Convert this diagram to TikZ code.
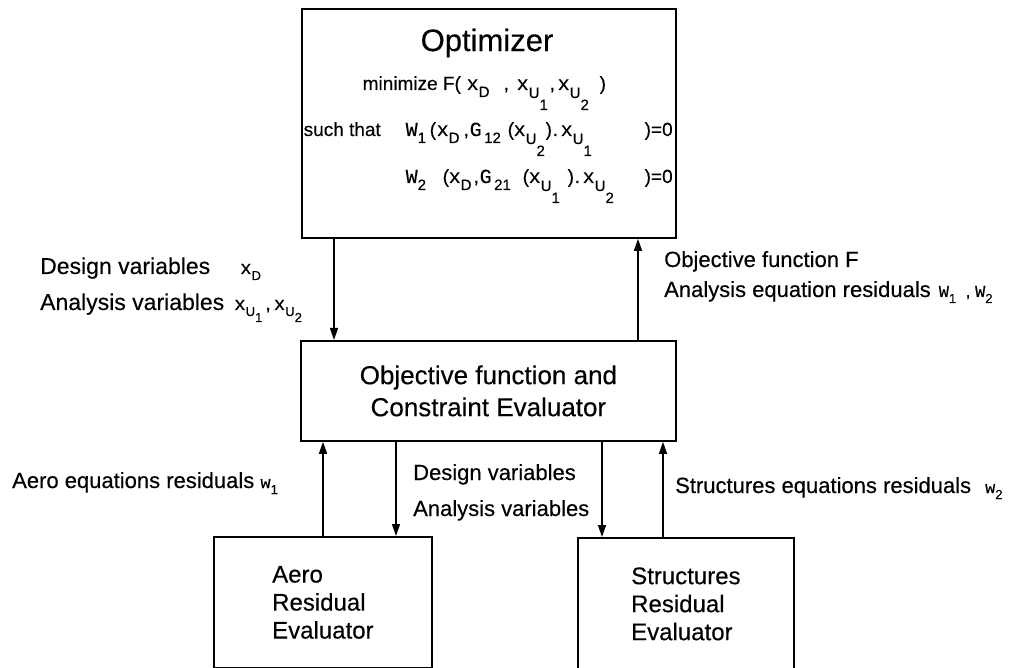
\documentclass[tikz,border=0pt]{standalone}
\usepackage{fontspec}
\setmainfont{Liberation Sans}[FakeBold=0.3]
\newfontfamily\monof{Liberation Mono}[FakeBold=0.3]
\usetikzlibrary{arrows.meta}
\newcommand\fs[1]{\fontsize{#1}{#1}\selectfont}
\newcommand\sv[2]{{\monof #1}\raisebox{-6pt}{\fs{13}#2}}
\newcommand\svv[3]{{\monof #1}\raisebox{-6pt}{\fs{13}#2\raisebox{-6pt}{#3}}}
% formula pieces (optimizer box)
\newcommand\fv[2]{{\fs{20}\monof #1}\raisebox{-7pt}{\fs{15}#2}}
\newcommand\fvv[3]{{\fs{20}\monof #1}\raisebox{-8pt}{\fs{15}#2\raisebox{-12pt}{#3}}}
\newcommand\at[2]{\makebox[0pt][l]{\hspace{#1pt}#2}}
\begin{document}
\begin{tikzpicture}[x=1pt,y=-1pt,
  box/.style={draw,line width=1.8pt,inner sep=0pt,anchor=north west},
  conn/.style={line width=1.4pt,-{Triangle[length=12pt,width=8pt]}},
  lbl/.style={anchor=base west,inner sep=0pt,font=\fs{22}},
  frm/.style={anchor=base west,inner sep=0pt,font=\fs{19}}]
\useasboundingbox (0,0) rectangle (1012,668);
% boxes
\node[box,minimum width=374pt,minimum height=229pt] (opt) at (301,8) {};
\node[box,minimum width=375pt,minimum height=100pt,align=center,font=\fs{26}\setlength{\baselineskip}{32pt}] (mid) at (300,340)
  {Objective function and\\Constraint Evaluator};
\node[box,minimum width=218pt,minimum height=131pt,align=left,font=\fs{24}\setlength{\baselineskip}{28pt}] (aero) at (213,536)
  {Aero\\Residual\\Evaluator};
\node[box,minimum width=216pt,minimum height=132pt,align=left,font=\fs{24}\setlength{\baselineskip}{28pt}] (str) at (577,537)
  {Structures\\Residual\\Evaluator};
% optimizer texts
\node[inner sep=0pt,font=\fs{31}] (title) at (487,43) {Optimizer};
\node[frm] (r1) at (362,90) {\at{0}{minimize F(}\at{104}{\fv{x}{D}}\at{141}{,}\at{154}{\fvv{x}{U}{1}}\at{187}{,}\at{195}{\fvv{x}{U}{2}}\at{237}{)}\hspace{244pt}};
\node[frm] (r2) at (303,136) {\at{0}{such that}\at{102}{\fv{W}{1}}\at{126}{(}\at{133}{\fv{x}{D}}\at{160}{,}\at{166}{\fv{G}{\,12}}\at{204}{(}\at{210}{\fvv{x}{U}{2}}\at{242}{)}\at{249}{.}\at{257}{\fvv{x}{U}{1}}\at{341}{)=0}\hspace{370pt}};
\node[frm] (r3) at (405,183) {\at{0}{\fv{W}{2}}\at{37}{(}\at{43}{\fv{x}{D}}\at{68}{,}\at{74}{\fv{G}{\,21}}\at{117}{(}\at{123}{\fvv{x}{U}{1}}\at{162}{)}\at{169}{.}\at{177}{\fvv{x}{U}{2}}\at{239}{)=0}\hspace{267pt}};
% labels
\node[lbl,font=\fs{23}] (dv) at (40,274) {Design variables\hspace{30pt}{\fs{19}\sv{x}{D}}};
\node[lbl,font=\fs{23}] (av) at (40,310) {Analysis variables\hspace{10pt}{\fs{19}\svv{x}{U}{1}\,,\,\svv{x}{U}{2}}};
\node[lbl] (of) at (664,267) {Objective function F};
\node[lbl] (ar) at (664,297) {Analysis equation residuals\hspace{8pt}{\fs{17}\sv{W}{1}\ \ ,\ \sv{W}{2}}};
\node[lbl] (ae) at (12,488) {Aero equations residuals {\fs{17}\sv{w}{1}}};
\node[lbl] (dv2) at (413,480) {Design variables};
\node[lbl] (av2) at (413,516) {Analysis variables};
\node[lbl] (se) at (675,493) {Structures equations residuals\hspace{14pt}{\fs{17}\sv{w}{2}}};
% connector columns
\coordinate (c1) at (334,0);
\coordinate (c2) at (638,0);
\coordinate (c3) at (323,0);
\coordinate (c4) at (396,0);
\coordinate (c5) at (602,0);
\coordinate (c6) at (663,0);
\draw[conn] (opt.south -| c1) -- (mid.north -| c1);
\draw[conn] (mid.north -| c2) -- (opt.south -| c2);
\draw[conn] (aero.north -| c3) -- (mid.south -| c3);
\draw[conn] (mid.south -| c4) -- (aero.north -| c4);
\draw[conn] (mid.south -| c5) -- (str.north -| c5);
\draw[conn] (str.north -| c6) -- (mid.south -| c6);
\end{tikzpicture}
\end{document}
